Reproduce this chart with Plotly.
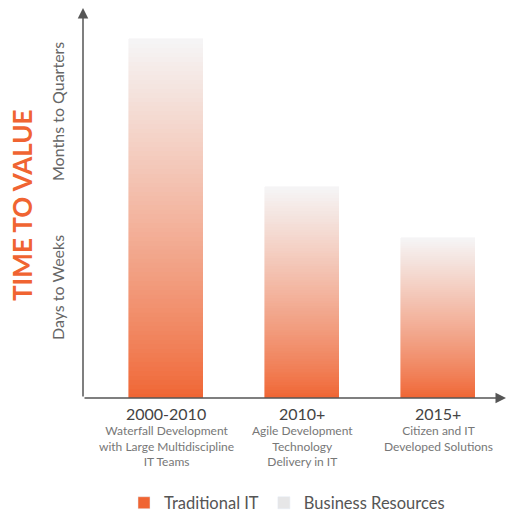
import plotly.graph_objects as go

# ---- data ----
years = ["2000-2010", "2010+", "2015+"]
descriptions = [
    "Waterfall Development<br>with Large Multidiscipline<br>IT Teams",
    "Agile Development<br>Technology<br>Delivery in IT",
    "Citizen and IT<br>Developed Solutions",
]
time_to_value = [92, 54, 41]
series_names = ["Traditional IT", "Business Resources"]

# ---- style ----
ORANGE = (240, 100, 50)
LIGHT = (245, 245, 246)
FONT = "Lato"
N_SEG = 80

W, H = 511, 514
ML, MR, MT, MB = 83, 5, 8, 116
PW, PH = W - ML - MR, H - MT - MB
x_pos = list(range(len(years)))
px_per_unit = 136.0
xmin = -(166 - ML) / px_per_unit
xmax = xmin + PW / px_per_unit


def mix(f):
    c = [round(ORANGE[i] + (LIGHT[i] - ORANGE[i]) * f) for i in range(3)]
    return "rgb(%d,%d,%d)" % tuple(c)


fig = go.Figure()
for s in range(N_SEG):
    f = (s + 0.5) / N_SEG
    col = mix(f ** 0.85)
    fig.add_trace(go.Bar(
        x=x_pos, y=[v / N_SEG for v in time_to_value],
        width=0.537, marker=dict(color=col, line=dict(width=0.6, color=col)),
        showlegend=False, hoverinfo="skip",
    ))

# legend entries
fig.add_trace(go.Bar(x=[None], y=[None], name=series_names[0],
                     marker=dict(color="rgb(240,100,50)")))
fig.add_trace(go.Bar(x=[None], y=[None], name=series_names[1],
                     marker=dict(color="rgb(230,230,231)")))


def py(pix):
    return (MT + PH - pix) / PH


def pxp(pix):
    return (pix - ML) / PW


ann = []
# axes arrows
ann.append(dict(x=0, y=1, xref="paper", yref="paper", ax=0, ay=PH, axref="pixel", ayref="pixel",
                showarrow=True, arrowhead=2, arrowsize=1.4, arrowwidth=1.5, arrowcolor="#555", text=""))
ann.append(dict(x=1, y=0, xref="paper", yref="paper", ax=-PW, ay=0,
                showarrow=True, arrowhead=2, arrowsize=1.4, arrowwidth=1.5, arrowcolor="#555", text=""))
# y labels
ann.append(dict(x=pxp(22), y=py(205), xref="paper", yref="paper", text="<b>TIME TO VALUE</b>",
                xanchor="center", yanchor="middle",
                textangle=-90, showarrow=False, font=dict(family=FONT, size=26, color="rgb(240,100,50)")))
ann.append(dict(x=pxp(57), y=py(112), xref="paper", yref="paper", text="Months to Quarters",
                xanchor="center", yanchor="middle",
                textangle=-90, showarrow=False, font=dict(family=FONT, size=16, color="#666")))
ann.append(dict(x=pxp(57), y=py(288), xref="paper", yref="paper", text="Days to Weeks",
                xanchor="center", yanchor="middle",
                textangle=-90, showarrow=False, font=dict(family=FONT, size=16, color="#666")))
# category labels
for xi, yr, d in zip(x_pos, years, descriptions):
    ann.append(dict(x=xi, y=py(413), xref="x", yref="paper", text=yr, showarrow=False,
                    xanchor="center", yanchor="middle",
                    font=dict(family=FONT, size=16, color="#444")))
    ann.append(dict(x=xi, y=py(421), xref="x", yref="paper", text=d, showarrow=False,
                    xanchor="center", yanchor="top",
                    font=dict(family=FONT, size=12, color="#777")))

fig.update_layout(
    width=W, height=H, margin=dict(l=ML, r=MR, t=MT, b=MB),
    barmode="stack", bargap=0,
    plot_bgcolor="white", paper_bgcolor="white",
    xaxis=dict(range=[xmin, xmax], visible=False, fixedrange=True),
    yaxis=dict(range=[0, 100], visible=False, fixedrange=True),
    showlegend=True,
    legend=dict(orientation="h", x=287 / W, xref="container", xanchor="center",
                y=(H - 503) / H, yref="container", yanchor="middle",
                font=dict(family=FONT, size=16.5, color="#555"), traceorder="normal"),
    annotations=ann,
)
fig.write_html("out.html")
